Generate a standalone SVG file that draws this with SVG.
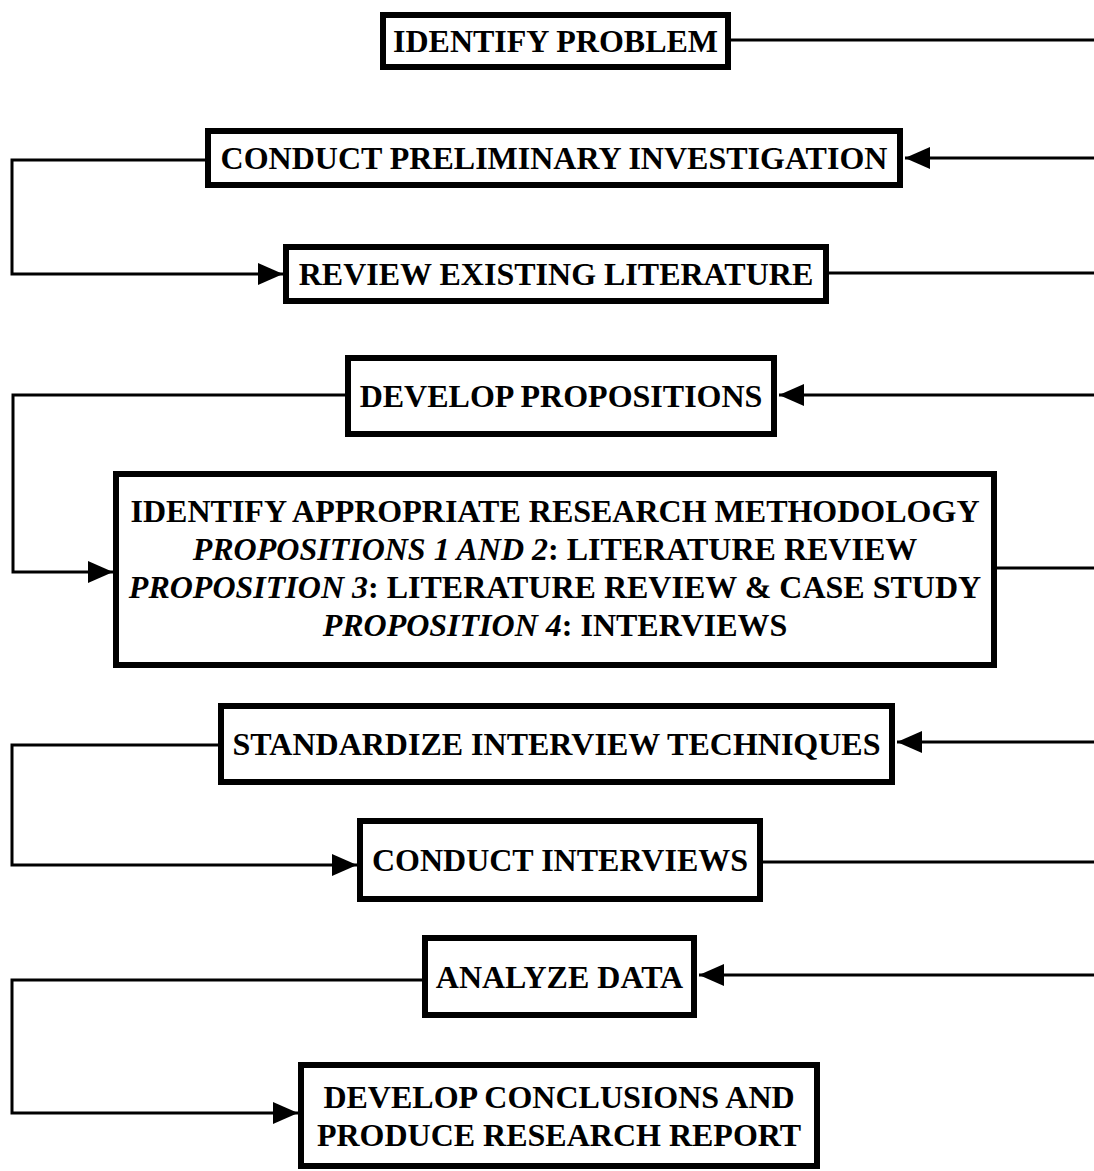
<svg xmlns="http://www.w3.org/2000/svg" width="1094" height="1171" viewBox="0 0 1094 1171">
<style>
.box{fill:#fff;stroke:#000;stroke-width:6}
.t{font-family:"Liberation Serif","Times New Roman",serif;font-weight:bold;font-size:32px;fill:#000;text-anchor:middle}
.i{font-style:italic}
.c{fill:none;stroke:#000;stroke-width:3}
</style>
<defs>
<marker id="ah" markerUnits="userSpaceOnUse" markerWidth="26" markerHeight="22" refX="25" refY="11" orient="auto">
<path d="M0,0 L25,11 L0,22 Z" fill="#000"/>
</marker>
</defs>
<rect width="1094" height="1171" fill="#fff"/>
<g id="connectors">
<path class="c" d="M731,40 H1094"/>
<path class="c" d="M1094,158 H905" marker-end="url(#ah)"/>
<path class="c" d="M205,160 H12 V274 H283" marker-end="url(#ah)"/>
<path class="c" d="M829,273 H1094"/>
<path class="c" d="M1094,395 H779" marker-end="url(#ah)"/>
<path class="c" d="M345,395 H13 V572 H113" marker-end="url(#ah)"/>
<path class="c" d="M997,568 H1094"/>
<path class="c" d="M1094,742 H897" marker-end="url(#ah)"/>
<path class="c" d="M218,745 H12 V865 H357" marker-end="url(#ah)"/>
<path class="c" d="M763,862 H1094"/>
<path class="c" d="M1094,975 H699" marker-end="url(#ah)"/>
<path class="c" d="M422,980 H12 V1113 H298" marker-end="url(#ah)"/>
</g>
<g id="identify-problem">
<rect class="box" x="383" y="15" width="345" height="52"/>
<text class="t" x="555.5" y="52">IDENTIFY PROBLEM</text>
</g>
<g id="preliminary-investigation">
<rect class="box" x="208" y="131" width="692" height="54"/>
<text class="t" x="554" y="169">CONDUCT PRELIMINARY INVESTIGATION</text>
</g>
<g id="review-literature">
<rect class="box" x="286" y="247" width="540" height="54"/>
<text class="t" x="556" y="285">REVIEW EXISTING LITERATURE</text>
</g>
<g id="develop-propositions">
<rect class="box" x="348" y="358" width="426" height="76"/>
<text class="t" x="561" y="407">DEVELOP PROPOSITIONS</text>
</g>
<g id="methodology">
<rect class="box" x="116" y="474" width="878" height="191"/>
<text class="t" x="555" y="522">IDENTIFY APPROPRIATE RESEARCH METHODOLOGY</text>
<text class="t" x="555" y="560"><tspan class="i">PROPOSITIONS 1 AND 2</tspan>: LITERATURE REVIEW</text>
<text class="t" x="555" y="598"><tspan class="i">PROPOSITION 3</tspan>: LITERATURE REVIEW &amp; CASE STUDY</text>
<text class="t" x="555" y="636"><tspan class="i">PROPOSITION 4</tspan>: INTERVIEWS</text>
</g>
<g id="standardize">
<rect class="box" x="221" y="706" width="671" height="76"/>
<text class="t" x="556.5" y="755">STANDARDIZE INTERVIEW TECHNIQUES</text>
</g>
<g id="conduct-interviews">
<rect class="box" x="360" y="821" width="400" height="78"/>
<text class="t" x="560" y="871">CONDUCT INTERVIEWS</text>
</g>
<g id="analyze-data">
<rect class="box" x="425" y="938" width="269" height="77"/>
<text class="t" x="559.5" y="988">ANALYZE DATA</text>
</g>
<g id="conclusions">
<rect class="box" x="301" y="1065" width="516" height="101"/>
<text class="t" x="559" y="1108">DEVELOP CONCLUSIONS AND</text>
<text class="t" x="559" y="1146">PRODUCE RESEARCH REPORT</text>
</g>
</svg>
